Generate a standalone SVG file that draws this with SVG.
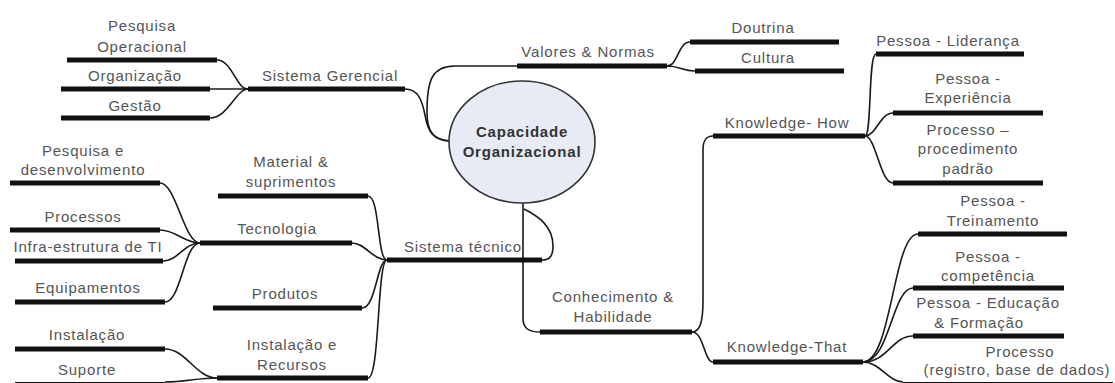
<svg xmlns="http://www.w3.org/2000/svg" width="1115" height="383" viewBox="0 0 1115 383">
<style>
.bg{fill:#ffffff}
.c{fill:none;stroke:#1a1a1a;stroke-width:1.6}
.u{fill:none;stroke:#111111;stroke-width:5}
.t{font-family:"Liberation Sans",Arial,sans-serif;font-size:15px;letter-spacing:0.8px;fill:#555555;text-anchor:middle}
.b{font-family:"Liberation Sans",Arial,sans-serif;font-size:15px;letter-spacing:0.8px;font-weight:bold;fill:#333333;text-anchor:middle}
.e{fill:#e6ebf6;stroke:#333333;stroke-width:1.6}
</style>
<rect class="bg" x="0" y="0" width="1115" height="383"/>
<g id="connectors">
<!-- central to Sistema Gerencial -->
<path class="c" d="M405,89 C418,89 422,100 425,115 C428,133 434,140 450,141"/>
<!-- central to Valores -->
<path class="c" d="M450,141 C432,140 427,130 427,112 C427,80 432,66 455,66 L517,66"/>
<!-- Valores children -->
<path class="c" d="M667,66 C678,66 678,42 690,42"/>
<path class="c" d="M667,66 C680,66 682,71 695,71"/>
<!-- Sistema Gerencial children -->
<path class="c" d="M248,89 C236,89 232,60 217,60"/>
<path class="c" d="M248,89 L210,89"/>
<path class="c" d="M248,89 C236,89 228,118 210,118"/>
<!-- central to Conhecimento -->
<path class="c" d="M523,203 L523,318 C523,328 528,332 540,332"/>
<!-- central to Sistema tecnico -->
<path class="c" d="M524,209 C538,216 553,226 553,246 C553,257 549,260 542,260"/>
<!-- Conhecimento children -->
<path class="c" d="M692,332 C700,332 703,322 703,300 L703,150 C703,140 706,136 713,136"/>
<path class="c" d="M692,332 C704,332 704,362 713,362"/>
<!-- Knowledge-How children -->
<path class="c" d="M865,136 C872,136 868,54 876,54"/>
<path class="c" d="M865,136 C876,136 880,113 893,113"/>
<path class="c" d="M865,136 C876,136 880,183 893,183"/>
<!-- Knowledge-That children -->
<path class="c" d="M863,362 C892,362 893,234 918,234"/>
<path class="c" d="M863,362 C890,362 892,288 913,288"/>
<path class="c" d="M863,362 C888,362 892,336 913,336"/>
<path class="c" d="M863,362 C880,362 888,382 903,382"/>
<!-- Sistema tecnico children -->
<path class="c" d="M387,260 C377,260 380,196 368,196"/>
<path class="c" d="M387,260 C373,260 365,243 352,243"/>
<path class="c" d="M387,260 C377,260 376,308 362,308"/>
<path class="c" d="M387,260 C377,260 380,378 368,378"/>
<!-- Tecnologia children -->
<path class="c" d="M200,243 C184,243 176,183 160,183"/>
<path class="c" d="M200,243 C184,243 176,230 160,230"/>
<path class="c" d="M200,243 C184,243 178,261 163,261"/>
<path class="c" d="M200,243 C184,243 181,302 165,302"/>
<!-- Instalacao e Recursos children -->
<path class="c" d="M217,378 C196,378 186,349 165,349"/>
<path class="c" d="M217,378 C196,378 186,382 165,382"/>
</g>
<g id="central">
<ellipse class="e" cx="522" cy="142" rx="73" ry="61"/>
<text class="b" x="522" y="137">Capacidade</text>
<text class="b" x="522" y="157">Organizacional</text>
</g>
<g id="sistema-gerencial">
<line class="u" x1="248" y1="89" x2="405" y2="89"/>
<text class="t" x="330" y="81">Sistema Gerencial</text>
</g>
<g id="pesquisa-operacional">
<line class="u" x1="67" y1="60" x2="217" y2="60"/>
<text class="t" x="142" y="31">Pesquisa</text>
<text class="t" x="142" y="52">Operacional</text>
</g>
<g id="organizacao">
<line class="u" x1="61" y1="89" x2="210" y2="89"/>
<text class="t" x="135" y="81">Organização</text>
</g>
<g id="gestao">
<line class="u" x1="61" y1="118" x2="210" y2="118"/>
<text class="t" x="135" y="111">Gestão</text>
</g>
<g id="valores-normas">
<line class="u" x1="517" y1="66" x2="667" y2="66"/>
<text class="t" x="588" y="57">Valores &amp; Normas</text>
</g>
<g id="doutrina">
<line class="u" x1="690" y1="42" x2="839" y2="42"/>
<text class="t" x="763" y="33">Doutrina</text>
</g>
<g id="cultura">
<line class="u" x1="695" y1="71" x2="844" y2="71"/>
<text class="t" x="768" y="63">Cultura</text>
</g>
<g id="conhecimento-habilidade">
<line class="u" x1="540" y1="332" x2="692" y2="332"/>
<text class="t" x="613" y="302">Conhecimento &amp;</text>
<text class="t" x="613" y="322">Habilidade</text>
</g>
<g id="knowledge-how">
<line class="u" x1="713" y1="136" x2="865" y2="136"/>
<text class="t" x="787" y="128">Knowledge- How</text>
</g>
<g id="pessoa-lideranca">
<line class="u" x1="876" y1="54" x2="1024" y2="54"/>
<text class="t" x="948" y="46">Pessoa - Liderança</text>
</g>
<g id="pessoa-experiencia">
<line class="u" x1="893" y1="113" x2="1043" y2="113"/>
<text class="t" x="968" y="84">Pessoa -</text>
<text class="t" x="968" y="103">Experiência</text>
</g>
<g id="processo-procedimento">
<line class="u" x1="893" y1="183" x2="1043" y2="183"/>
<text class="t" x="968" y="135">Processo –</text>
<text class="t" x="968" y="154">procedimento</text>
<text class="t" x="968" y="174">padrão</text>
</g>
<g id="knowledge-that">
<line class="u" x1="713" y1="362" x2="863" y2="362"/>
<text class="t" x="787" y="352">Knowledge-That</text>
</g>
<g id="pessoa-treinamento">
<line class="u" x1="918" y1="234" x2="1067" y2="234"/>
<text class="t" x="993" y="206">Pessoa -</text>
<text class="t" x="993" y="226">Treinamento</text>
</g>
<g id="pessoa-competencia">
<line class="u" x1="913" y1="288" x2="1064" y2="288"/>
<text class="t" x="988" y="262">Pessoa -</text>
<text class="t" x="988" y="281">competência</text>
</g>
<g id="pessoa-educacao">
<line class="u" x1="913" y1="336" x2="1064" y2="336"/>
<text class="t" x="988" y="308">Pessoa - Educação</text>
<text class="t" x="979" y="328">&amp; Formação</text>
</g>
<g id="processo-registro">
<line class="u" x1="903" y1="384.5" x2="1113" y2="384.5"/>
<text class="t" x="1020" y="357">Processo</text>
<text class="t" x="1017" y="375">(registro, base de dados)</text>
</g>
<g id="sistema-tecnico">
<line class="u" x1="387" y1="260" x2="542" y2="260"/>
<text class="t" x="463" y="252">Sistema técnico</text>
</g>
<g id="material-suprimentos">
<line class="u" x1="218" y1="196" x2="368" y2="196"/>
<text class="t" x="291" y="167">Material &amp;</text>
<text class="t" x="291" y="187">suprimentos</text>
</g>
<g id="tecnologia">
<line class="u" x1="200" y1="243" x2="352" y2="243"/>
<text class="t" x="277" y="234">Tecnologia</text>
</g>
<g id="produtos">
<line class="u" x1="213" y1="308" x2="362" y2="308"/>
<text class="t" x="285" y="299">Produtos</text>
</g>
<g id="instalacao-recursos">
<line class="u" x1="217" y1="378" x2="368" y2="378"/>
<text class="t" x="292" y="350">Instalação e</text>
<text class="t" x="292" y="370">Recursos</text>
</g>
<g id="pesquisa-desenvolvimento">
<line class="u" x1="10" y1="183" x2="160" y2="183"/>
<text class="t" x="83" y="156">Pesquisa e</text>
<text class="t" x="83" y="175">desenvolvimento</text>
</g>
<g id="processos">
<line class="u" x1="10" y1="230" x2="160" y2="230"/>
<text class="t" x="83" y="222">Processos</text>
</g>
<g id="infra-estrutura">
<line class="u" x1="15" y1="261" x2="163" y2="261"/>
<text class="t" x="88" y="252">Infra-estrutura de TI</text>
</g>
<g id="equipamentos">
<line class="u" x1="15" y1="302" x2="165" y2="302"/>
<text class="t" x="88" y="293">Equipamentos</text>
</g>
<g id="instalacao">
<line class="u" x1="15" y1="349" x2="165" y2="349"/>
<text class="t" x="87" y="340">Instalação</text>
</g>
<g id="suporte">
<line class="u" x1="15" y1="384.5" x2="165" y2="384.5"/>
<text class="t" x="87" y="375">Suporte</text>
</g>
</svg>
